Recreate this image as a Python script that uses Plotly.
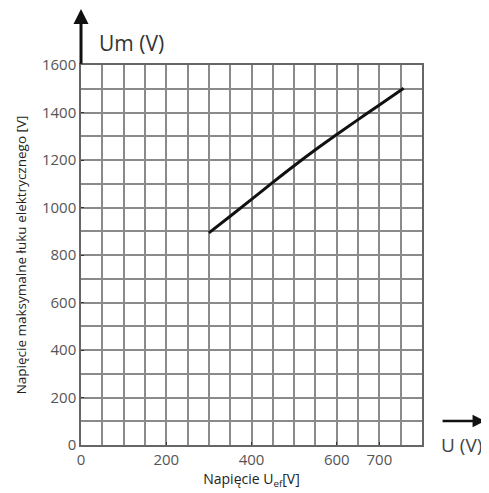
import plotly.graph_objects as go

# Data
u_ef = [300, 350, 400, 450, 500, 550, 600, 650, 700, 757]
u_max = [893, 963, 1034, 1106, 1176, 1243, 1307, 1370, 1432, 1502]

x_tickvals = [0, 200, 400, 600, 700]
x_ticktext = ["0", "200", "400", "600", "700"]
y_tickvals = [0, 200, 400, 600, 800, 1000, 1200, 1400, 1600]

grid_col = "#8a8a8a"
tick_font = dict(family="Open Sans", size=15, color="#555555")

fig = go.Figure()
fig.add_trace(go.Scatter(x=u_ef, y=u_max, mode="lines",
                         line=dict(color="#111111", width=3, shape="spline", smoothing=1.0),
                         showlegend=False, hoverinfo="skip"))

fig.update_layout(
    width=481, height=485,
    margin=dict(l=67, r=67, t=57, b=47),
    paper_bgcolor="white", plot_bgcolor="white",
    xaxis=dict(range=[0, 800], tickmode="array", tickvals=x_tickvals, ticktext=x_ticktext,
               showgrid=True, gridcolor=grid_col, gridwidth=1.6,
               minor=dict(tickmode="linear", tick0=0, dtick=50, showgrid=True,
                          gridcolor=grid_col, gridwidth=1.6),
               showline=True, linecolor="#666666", linewidth=1.5, mirror=True,
               ticks="inside", ticklen=3, tickcolor="#333333",
               tickfont=tick_font, zeroline=False, fixedrange=True,
               title=dict(text="Napięcie U<sub>ef</sub>[V]",
                          font=dict(family="Open Sans", size=14, color="#222222"),
                          standoff=2)),
    yaxis=dict(range=[0, 1600], tickmode="array", tickvals=y_tickvals,
               showgrid=True, gridcolor=grid_col, gridwidth=1.6,
               minor=dict(tickmode="linear", tick0=0, dtick=100, showgrid=True,
                          gridcolor=grid_col, gridwidth=1.6),
               showline=True, linecolor="#666666", linewidth=1.5, mirror=True,
               ticks="inside", ticklen=3, tickcolor="#333333",
               tickfont=tick_font, zeroline=False, fixedrange=True,
               title=dict(text="Napięcie maksymalne łuku elektrycznego [V]",
                          font=dict(family="Open Sans", size=13.5, color="#222222"),
                          standoff=12)),
    annotations=[
        # up arrow on y axis
        dict(xref="paper", yref="paper", x=0, y=1.152, ax=0, ay=58,
             axref="pixel", ayref="pixel", text="", showarrow=True,
             arrowhead=2, arrowsize=1, arrowwidth=3, arrowcolor="#111111"),
        dict(xref="paper", yref="paper", x=0.047, y=1.058, xanchor="left", yanchor="middle",
             text="Um (V)", showarrow=False,
             font=dict(family="Open Sans", size=21, color="#333333")),
        # right arrow for x axis
        dict(xref="paper", yref="paper", x=1.185, y=0.063, ax=-44, ay=0,
             axref="pixel", ayref="pixel", text="", showarrow=True,
             arrowhead=2, arrowsize=1, arrowwidth=2.5, arrowcolor="#111111"),
        dict(xref="paper", yref="paper", x=1.115, y=0.0, xanchor="center", yanchor="middle",
             text="U (V)", showarrow=False,
             font=dict(family="Open Sans", size=19, color="#444444")),
    ],
)

fig.write_html("out.html")
